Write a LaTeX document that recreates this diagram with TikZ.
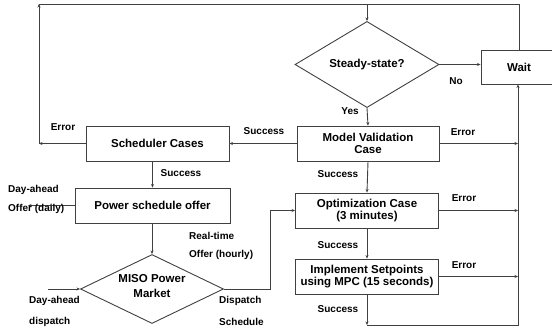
\documentclass[tikz,border=0pt]{standalone}
\usepackage{fontspec}
\setmainfont{Liberation Sans}
\usetikzlibrary{shapes.geometric,arrows.meta}
\begin{document}
\begin{tikzpicture}[x=1pt,y=-1pt,
  ln/.style={draw=black!75,line width=0.9pt},
  arr/.style={ln,-{Stealth[length=3.5pt,width=3pt]}},
  box/.style={ln,rectangle,inner sep=0pt,align=center,font=\fontsize{11.5}{11.5}\selectfont\bfseries},
  dia/.style={ln,diamond,inner sep=0pt,align=center,font=\fontsize{11.5}{11.5}\selectfont\bfseries},
  lbl/.style={inner sep=0pt,font=\fontsize{10}{12}\selectfont\bfseries},
  lbll/.style={lbl,anchor=west}]
\useasboundingbox (0,0) rectangle (552,332);
\begin{scope}
\clip (0,0) rectangle (552,332);
% nodes
\node[box,minimum width=143pt,minimum height=35pt] (sched) at (157.5,143.5) {Scheduler Cases};
\node[box,minimum width=142pt,minimum height=35pt] (mv) at (368,143.5) {Model Validation\\Case};
\node[dia,minimum width=144pt,minimum height=71pt] (ss) at (367,64.5) {Steady-state?};
\node[box,minimum width=76pt,minimum height=34pt] (wait) at (519,67) {Wait};
\node[box,minimum width=143pt,minimum height=35pt] (opt) at (367,210.5) {Optimization Case\\(3 minutes)};
\node[box,minimum width=143pt,minimum height=35pt] (impl) at (367,276.5) {Implement Setpoints\\using MPC (15 seconds)};
\node[box,minimum width=155pt,minimum height=35pt] (pso) at (152.5,205.5) {Power schedule offer};
\node[dia,minimum width=143pt,minimum height=69pt] (miso) at (152,289) {};
\node[lbl,align=center,font=\fontsize{11.5}{15}\selectfont\bfseries] (misot) at (152,286.5) {MISO Power\\Market};

% coordinates
\coordinate (tl) at (39,4);
\coordinate (el) at (39,143.5);
\coordinate (tr) at (519,4);
\coordinate (ts) at (367,4);
\coordinate (rb) at (518,325);
\coordinate (sb) at (367,325);
\coordinate (dao) at (28,205.5);
\coordinate (dad) at (48,289);
\coordinate (rt) at (270,289);

% connectors
\draw[arr] (mv.west) -- (sched.east);
\draw[arr] (sched.west) -- (el);
\draw[arr] (el) -- (tl);
\draw[ln] (tl) -- (tr) -- (wait.north);
\draw[arr] (ts) -- (ss.north);
\draw[arr] (ss.east) -- (ss.east -| wait.west);
\draw[arr] (ss.south) -- (mv.north);
\draw[arr] (mv.east) -- (mv.east -| rb);
\draw[arr] (mv.south) -- (opt.north);
\draw[arr] (opt.east) -- (opt.east -| rb);
\draw[arr] (opt.south) -- (impl.north);
\draw[arr] (impl.east) -- (impl.east -| rb);
\draw[arr] (impl.south) -- (sb);
\draw[arr] (sb) -- (rb) -- (rb |- wait.south);
\draw[arr] (sched.south -| pso.north) -- (pso.north);
\draw[arr] (pso.west) -- (dao);
\draw[arr] (pso.south -| miso.north) -- (miso.north);
\draw[arr] (dad) -- (miso.west);
\draw[arr] (miso.east) -- (rt) -- (rt |- opt.west) -- (opt.west);

% labels
\node[lbl] (l1) at (63,127.5) {Error};
\node[lbl] (l2) at (264,131) {Success};
\node[lbl] (l3) at (456,81) {No};
\node[lbl] (l4) at (350,111) {Yes};
\node[lbl] (l5) at (463,132) {Error};
\node[lbl] (l6) at (464,198) {Error};
\node[lbl] (l7) at (464,265) {Error};
\node[lbl] (l8) at (338,174) {Success};
\node[lbl] (l9) at (338,245) {Success};
\node[lbl] (l10) at (338,309) {Success};
\node[lbl] (l11) at (181,173) {Success};
\node[lbll] (l12) at (8,189.5) {Day-ahead};
\node[lbll] (l13) at (8,209) {Offer (daily)};
\node[lbll] (l14) at (189,236) {Real-time};
\node[lbll] (l15) at (189,255) {Offer (hourly)};
\node[lbll] (l16) at (29,301) {Day-ahead};
\node[lbll] (l17) at (29,322) {dispatch};
\node[lbll] (l18) at (219,301) {Dispatch};
\node[lbll] (l19) at (219,322) {Schedule};
\end{scope}
\end{tikzpicture}
\end{document}
